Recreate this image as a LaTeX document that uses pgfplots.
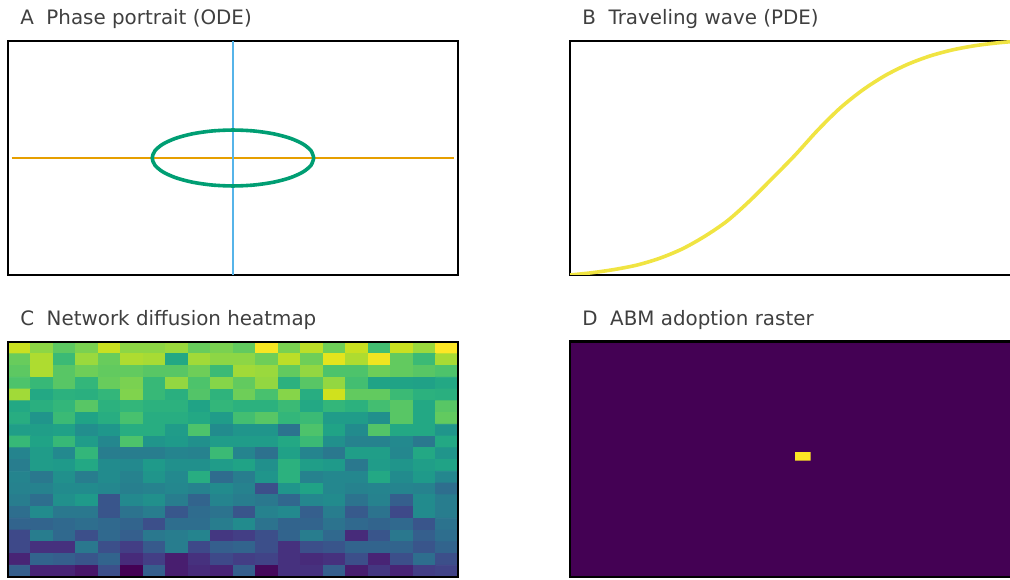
\documentclass[border=0pt]{standalone}
\usepackage{fontspec}
\setmainfont{DejaVu Sans}
\usepackage{pgfplots}
\pgfplotsset{compat=1.18}
\definecolor{okorange}{HTML}{E69F00}
\definecolor{okblue}{HTML}{56B4E9}
\definecolor{okgreen}{HTML}{009E73}
\definecolor{okyellow}{HTML}{F0E442}
\definecolor{vdark}{HTML}{440154}
\definecolor{vyellow}{HTML}{FDE725}
\definecolor{titlegray}{HTML}{3F3F3F}
\begin{document}
\begin{tikzpicture}[x=1pt,y=1pt]
\pgfplotsset{panel/.style={scale only axis, width=337.5pt, xtick=\empty, ytick=\empty,
  axis line style={line width=2.2pt, black}, enlargelimits=false, clip=true}}
\tikzset{ttl/.style={anchor=base west, inner sep=0pt, text=titlegray, font=\fontsize{14.9}{18}\selectfont}}

% Panel A
\begin{axis}[panel, at={(6pt,228pt)}, anchor=south west, height=175.5pt,
  xmin=-1, xmax=1, ymin=-1, ymax=1]
\addplot[okorange, line width=1.8pt] coordinates {(-0.984,0) (0.984,0)};
\addplot[okblue, line width=1.8pt] coordinates {(0,-1) (0,1)};
\addplot[okgreen, line width=2.7pt, smooth] coordinates {
(0.359,0) (0.3468,0.0619) (0.3109,0.1195) (0.2539,0.1690) (0.1795,0.2070) (0.0929,0.2309)
(0,0.239) (-0.0929,0.2309) (-0.1795,0.2070) (-0.2539,0.1690) (-0.3109,0.1195) (-0.3468,0.0619)
(-0.359,0) (-0.3468,-0.0619) (-0.3109,-0.1195) (-0.2539,-0.1690) (-0.1795,-0.2070) (-0.0929,-0.2309)
(0,-0.239) (0.0929,-0.2309) (0.1795,-0.2070) (0.2539,-0.1690) (0.3109,-0.1195) (0.3468,-0.0619)
(0.359,0)};
\end{axis}

% Panel B
\begin{axis}[panel, at={(427.5pt,228pt)}, anchor=south west, height=175.5pt,
  xmin=0, xmax=1, ymin=0, ymax=1]
\addplot[okyellow, line width=2.7pt, smooth] coordinates {
(0.00,0.000) (0.05,0.010) (0.10,0.024) (0.15,0.043) (0.20,0.072) (0.25,0.112) (0.30,0.166)
(0.35,0.232) (0.40,0.318) (0.45,0.414) (0.50,0.512) (0.55,0.618) (0.60,0.713) (0.65,0.790)
(0.70,0.852) (0.75,0.900) (0.80,0.936) (0.85,0.962) (0.90,0.980) (0.95,0.992) (1.00,1.000)};
\end{axis}

% Panel C
\begin{axis}[panel, at={(6pt,1.5pt)}, anchor=south west, height=176.25pt, axis on top,
  xmin=-0.5, xmax=19.5, ymin=-0.5, ymax=19.5, y dir=reverse,
  colormap/viridis, point meta min=0, point meta max=1]
\addplot[matrix plot*, mesh/cols=20, point meta=explicit] coordinates {
(0,0)[0.92] (1,0)[0.83] (2,0)[0.75] (3,0)[0.80] (4,0)[0.92] (5,0)[0.83] (6,0)[0.83] (7,0)[0.85] (8,0)[0.77] (9,0)[0.80] (10,0)[0.76] (11,0)[0.99] (12,0)[0.80] (13,0)[0.90] (14,0)[0.78] (15,0)[0.92] (16,0)[0.70] (17,0)[0.92] (18,0)[0.85] (19,0)[1.00]
(0,1)[0.77] (1,1)[0.88] (2,1)[0.68] (3,1)[0.85] (4,1)[0.77] (5,1)[0.88] (6,1)[0.87] (7,1)[0.60] (8,1)[0.86] (9,1)[0.83] (10,1)[0.83] (11,1)[0.78] (12,1)[0.90] (13,1)[0.78] (14,1)[0.96] (15,1)[0.88] (16,1)[0.98] (17,1)[0.76] (18,1)[0.68] (19,1)[0.87]
(0,2)[0.75] (1,2)[0.88] (2,2)[0.74] (3,2)[0.78] (4,2)[0.76] (5,2)[0.76] (6,2)[0.74] (7,2)[0.74] (8,2)[0.78] (9,2)[0.68] (10,2)[0.86] (11,2)[0.85] (12,2)[0.76] (13,2)[0.84] (14,2)[0.72] (15,2)[0.72] (16,2)[0.78] (17,2)[0.76] (18,2)[0.74] (19,2)[0.72]
(0,3)[0.72] (1,3)[0.67] (2,3)[0.74] (3,3)[0.66] (4,3)[0.77] (5,3)[0.80] (6,3)[0.67] (7,3)[0.84] (8,3)[0.72] (9,3)[0.82] (10,3)[0.76] (11,3)[0.84] (12,3)[0.64] (13,3)[0.74] (14,3)[0.84] (15,3)[0.70] (16,3)[0.58] (17,3)[0.58] (18,3)[0.57] (19,3)[0.60]
(0,4)[0.86] (1,4)[0.60] (2,4)[0.64] (3,4)[0.63] (4,4)[0.66] (5,4)[0.81] (6,4)[0.67] (7,4)[0.63] (8,4)[0.73] (9,4)[0.65] (10,4)[0.78] (11,4)[0.71] (12,4)[0.82] (13,4)[0.62] (14,4)[0.93] (15,4)[0.76] (16,4)[0.76] (17,4)[0.68] (18,4)[0.64] (19,4)[0.63]
(0,5)[0.60] (1,5)[0.63] (2,5)[0.66] (3,5)[0.74] (4,5)[0.64] (5,5)[0.66] (6,5)[0.64] (7,5)[0.64] (8,5)[0.58] (9,5)[0.66] (10,5)[0.64] (11,5)[0.64] (12,5)[0.68] (13,5)[0.60] (14,5)[0.66] (15,5)[0.64] (16,5)[0.70] (17,5)[0.74] (18,5)[0.60] (19,5)[0.74]
(0,6)[0.62] (1,6)[0.52] (2,6)[0.68] (3,6)[0.58] (4,6)[0.62] (5,6)[0.71] (6,6)[0.62] (7,6)[0.62] (8,6)[0.60] (9,6)[0.55] (10,6)[0.70] (11,6)[0.74] (12,6)[0.66] (13,6)[0.68] (14,6)[0.55] (15,6)[0.55] (16,6)[0.50] (17,6)[0.74] (18,6)[0.60] (19,6)[0.76]
(0,7)[0.56] (1,7)[0.56] (2,7)[0.57] (3,7)[0.49] (4,7)[0.53] (5,7)[0.62] (6,7)[0.62] (7,7)[0.55] (8,7)[0.72] (9,7)[0.48] (10,7)[0.52] (11,7)[0.52] (12,7)[0.38] (13,7)[0.72] (14,7)[0.58] (15,7)[0.48] (16,7)[0.73] (17,7)[0.60] (18,7)[0.60] (19,7)[0.52]
(0,8)[0.67] (1,8)[0.58] (2,8)[0.67] (3,8)[0.55] (4,8)[0.46] (5,8)[0.72] (6,8)[0.52] (7,8)[0.54] (8,8)[0.50] (9,8)[0.55] (10,8)[0.55] (11,8)[0.55] (12,8)[0.60] (13,8)[0.68] (14,8)[0.50] (15,8)[0.44] (16,8)[0.44] (17,8)[0.47] (18,8)[0.40] (19,8)[0.60]
(0,9)[0.45] (1,9)[0.55] (2,9)[0.47] (3,9)[0.66] (4,9)[0.42] (5,9)[0.42] (6,9)[0.42] (7,9)[0.45] (8,9)[0.44] (9,9)[0.68] (10,9)[0.45] (11,9)[0.37] (12,9)[0.57] (13,9)[0.45] (14,9)[0.40] (15,9)[0.56] (16,9)[0.56] (17,9)[0.46] (18,9)[0.60] (19,9)[0.52]
(0,10)[0.42] (1,10)[0.55] (2,10)[0.54] (3,10)[0.60] (4,10)[0.48] (5,10)[0.47] (6,10)[0.54] (7,10)[0.50] (8,10)[0.50] (9,10)[0.55] (10,10)[0.58] (11,10)[0.50] (12,10)[0.64] (13,10)[0.56] (14,10)[0.54] (15,10)[0.40] (16,10)[0.55] (17,10)[0.52] (18,10)[0.56] (19,10)[0.58]
(0,11)[0.45] (1,11)[0.40] (2,11)[0.50] (3,11)[0.42] (4,11)[0.48] (5,11)[0.44] (6,11)[0.52] (7,11)[0.47] (8,11)[0.62] (9,11)[0.35] (10,11)[0.42] (11,11)[0.52] (12,11)[0.64] (13,11)[0.44] (14,11)[0.46] (15,11)[0.46] (16,11)[0.60] (17,11)[0.48] (18,11)[0.54] (19,11)[0.46]
(0,12)[0.44] (1,12)[0.44] (2,12)[0.48] (3,12)[0.48] (4,12)[0.46] (5,12)[0.43] (6,12)[0.44] (7,12)[0.46] (8,12)[0.44] (9,12)[0.48] (10,12)[0.44] (11,12)[0.24] (12,12)[0.52] (13,12)[0.58] (14,12)[0.46] (15,12)[0.44] (16,12)[0.45] (17,12)[0.45] (18,12)[0.44] (19,12)[0.36]
(0,13)[0.42] (1,13)[0.36] (2,13)[0.50] (3,13)[0.54] (4,13)[0.26] (5,13)[0.47] (6,13)[0.50] (7,13)[0.42] (8,13)[0.32] (9,13)[0.45] (10,13)[0.42] (11,13)[0.40] (12,13)[0.33] (13,13)[0.46] (14,13)[0.48] (15,13)[0.38] (16,13)[0.44] (17,13)[0.30] (18,13)[0.48] (19,13)[0.42]
(0,14)[0.36] (1,14)[0.48] (2,14)[0.40] (3,14)[0.40] (4,14)[0.26] (5,14)[0.38] (6,14)[0.42] (7,14)[0.27] (8,14)[0.35] (9,14)[0.38] (10,14)[0.26] (11,14)[0.44] (12,14)[0.47] (13,14)[0.30] (14,14)[0.42] (15,14)[0.28] (16,14)[0.38] (17,14)[0.22] (18,14)[0.48] (19,14)[0.42]
(0,15)[0.32] (1,15)[0.32] (2,15)[0.34] (3,15)[0.36] (4,15)[0.34] (5,15)[0.32] (6,15)[0.24] (7,15)[0.36] (8,15)[0.36] (9,15)[0.42] (10,15)[0.48] (11,15)[0.38] (12,15)[0.32] (13,15)[0.32] (14,15)[0.38] (15,15)[0.34] (16,15)[0.32] (17,15)[0.34] (18,15)[0.26] (19,15)[0.38]
(0,16)[0.22] (1,16)[0.42] (2,16)[0.34] (3,16)[0.24] (4,16)[0.34] (5,16)[0.30] (6,16)[0.40] (7,16)[0.42] (8,16)[0.45] (9,16)[0.16] (10,16)[0.18] (11,16)[0.24] (12,16)[0.32] (13,16)[0.42] (14,16)[0.34] (15,16)[0.12] (16,16)[0.26] (17,16)[0.40] (18,16)[0.30] (19,16)[0.36]
(0,17)[0.22] (1,17)[0.14] (2,17)[0.14] (3,17)[0.40] (4,17)[0.24] (5,17)[0.18] (6,17)[0.28] (7,17)[0.42] (8,17)[0.22] (9,17)[0.30] (10,17)[0.32] (11,17)[0.24] (12,17)[0.14] (13,17)[0.24] (14,17)[0.26] (15,17)[0.32] (16,17)[0.32] (17,17)[0.32] (18,17)[0.26] (19,17)[0.32]
(0,18)[0.10] (1,18)[0.32] (2,18)[0.30] (3,18)[0.26] (4,18)[0.32] (5,18)[0.12] (6,18)[0.18] (7,18)[0.08] (8,18)[0.14] (9,18)[0.22] (10,18)[0.18] (11,18)[0.20] (12,18)[0.14] (13,18)[0.12] (14,18)[0.14] (15,18)[0.24] (16,18)[0.10] (17,18)[0.24] (18,18)[0.36] (19,18)[0.24]
(0,19)[0.30] (1,19)[0.10] (2,19)[0.10] (3,19)[0.06] (4,19)[0.24] (5,19)[0.00] (6,19)[0.30] (7,19)[0.08] (8,19)[0.12] (9,19)[0.10] (10,19)[0.30] (11,19)[0.02] (12,19)[0.14] (13,19)[0.14] (14,19)[0.30] (15,19)[0.08] (16,19)[0.16] (17,19)[0.10] (18,19)[0.18] (19,19)[0.20]
};
\end{axis}

% Panel D
\begin{axis}[panel, at={(427.5pt,1.5pt)}, anchor=south west, height=176.25pt, axis on top,
  xmin=0, xmax=450, ymin=0, ymax=235, axis background/.style={fill=vdark}]
\addplot[fill=vyellow, draw=none] coordinates {(225,116.3) (240.7,116.3) (240.7,124.7) (225,124.7) (225,116.3)};
\end{axis}

\node[ttl] at (15pt,415.5pt) {A\ \ Phase portrait (ODE)};
\node[ttl] at (436.5pt,415.5pt) {B\ \ Traveling wave (PDE)};
\node[ttl] at (15pt,189.75pt) {C\ \ Network diffusion heatmap};
\node[ttl] at (436.5pt,189.75pt) {D\ \ ABM adoption raster};

\pgfresetboundingbox
\useasboundingbox (0pt,0pt) rectangle (757.5pt,434.25pt);
\end{tikzpicture}
\end{document}
